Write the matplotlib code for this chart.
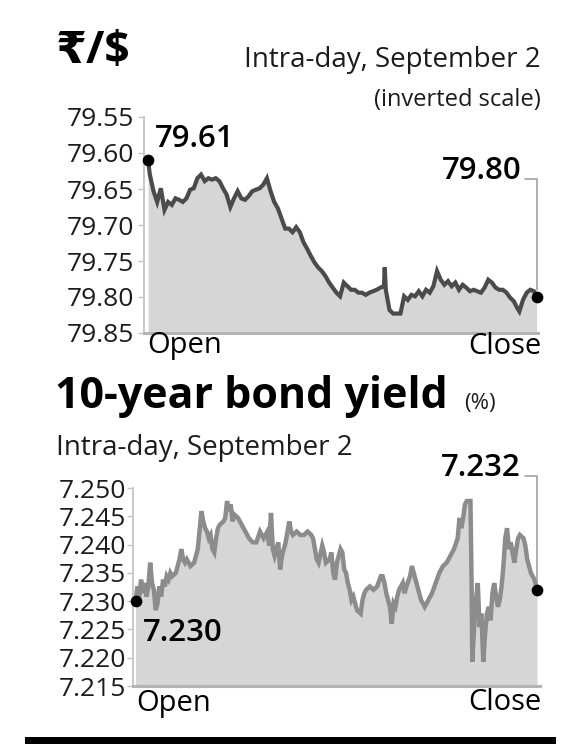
import matplotlib
matplotlib.use("Agg")
import matplotlib.pyplot as plt

plt.rcParams['font.family'] = ['Open Sans', 'Noto Sans', 'DejaVu Sans']

# ---- data: rupee per dollar, intra-day (time in session steps)
usd_t = [0, 5, 15, 25, 35, 45, 55, 65, 75, 85, 95, 105, 115, 125, 135, 145,
         155, 165, 175, 185, 195, 205, 215, 225, 235, 245, 255, 265, 275, 285,
         295, 305, 315, 325, 335, 345, 355, 365, 375, 385, 395, 405, 415, 425,
         435, 445, 455, 465, 475, 485, 495, 505, 515, 525, 535, 545, 555, 565,
         575, 585, 595, 605, 615, 625, 635, 645, 647, 650, 660, 670, 680, 690,
         700, 710, 720, 730, 740, 750, 760, 770, 780, 790, 800, 810, 820, 830,
         840, 850, 860, 870, 880, 890, 900, 910, 920, 930, 940, 950, 960, 970,
         980, 990, 1000, 1010, 1015, 1025, 1035, 1045, 1055, 1062]
usd_v = [79.610, 79.630, 79.653, 79.668, 79.649, 79.679, 79.668, 79.672,
         79.663, 79.665, 79.668, 79.663, 79.651, 79.649, 79.635, 79.630,
         79.639, 79.635, 79.637, 79.635, 79.639, 79.649, 79.658, 79.675,
         79.663, 79.653, 79.663, 79.665, 79.660, 79.653, 79.651, 79.649,
         79.644, 79.635, 79.653, 79.668, 79.677, 79.691, 79.705, 79.705,
         79.710, 79.703, 79.710, 79.724, 79.733, 79.743, 79.752, 79.759,
         79.764, 79.771, 79.780, 79.787, 79.794, 79.799, 79.780, 79.785,
         79.790, 79.790, 79.794, 79.794, 79.797, 79.794, 79.792, 79.790,
         79.787, 79.785, 79.759, 79.790, 79.818, 79.823, 79.823, 79.823,
         79.799, 79.804, 79.797, 79.799, 79.792, 79.799, 79.790, 79.794,
         79.785, 79.764, 79.776, 79.783, 79.778, 79.785, 79.780, 79.790,
         79.783, 79.787, 79.792, 79.790, 79.792, 79.794, 79.787, 79.776,
         79.780, 79.787, 79.790, 79.790, 79.794, 79.801, 79.806, 79.816,
         79.820, 79.804, 79.794, 79.790, 79.792, 79.800]
usd_ticks = [79.55, 79.60, 79.65, 79.70, 79.75, 79.80, 79.85]

# ---- data: 10-year bond yield, intra-day
bond_t = [0, 5, 10, 15, 20, 25, 30, 35, 40, 45, 50, 55, 60, 65, 70, 75, 80,
          85, 90, 95, 100, 110, 120, 125, 130, 135, 140, 150, 160, 170, 180,
          185, 190, 195, 200, 205, 210, 215, 220, 225, 230, 240, 245, 250,
          255, 260, 265, 270, 280, 290, 300, 310, 320, 330, 340, 350, 360,
          365, 370, 375, 380, 390, 395, 400, 410, 420, 425, 430, 440, 450,
          460, 470, 480, 485, 490, 495, 500, 510, 515, 520, 530, 535, 540,
          545, 550, 560, 565, 570, 575, 580, 585, 590, 595, 600, 605, 615,
          620, 625, 630, 640, 650, 660, 670, 675, 680, 685, 690, 695, 700,
          705, 710, 715, 720, 725, 730, 735, 740, 750, 755, 760, 765, 770,
          780, 790, 800, 810, 820, 830, 840, 850, 860, 870, 880, 885, 890,
          895, 900, 905, 915, 918, 920, 925, 930, 935, 940, 945, 950, 955,
          960, 965, 970, 975, 980, 985, 990, 995, 1000, 1005, 1010, 1015,
          1020, 1025, 1030, 1035, 1040, 1045, 1050, 1060, 1065, 1070, 1075,
          1080, 1090, 1097]
bond_v = [7.2300, 7.2326, 7.2308, 7.2338, 7.2314, 7.2332, 7.2308, 7.2326,
          7.2368, 7.2332, 7.2320, 7.2284, 7.2296, 7.2326, 7.2308, 7.2338,
          7.2326, 7.2344, 7.2338, 7.2350, 7.2344, 7.2350, 7.2374, 7.2392,
          7.2374, 7.2368, 7.2374, 7.2362, 7.2368, 7.2392, 7.2459, 7.2441,
          7.2429, 7.2423, 7.2411, 7.2417, 7.2392, 7.2386, 7.2411, 7.2429,
          7.2435, 7.2441, 7.2447, 7.2477, 7.2459, 7.2471, 7.2441, 7.2453,
          7.2447, 7.2435, 7.2423, 7.2411, 7.2404, 7.2404, 7.2423, 7.2411,
          7.2423, 7.2398, 7.2456, 7.2392, 7.2380, 7.2404, 7.2356, 7.2380,
          7.2404, 7.2441, 7.2423, 7.2417, 7.2423, 7.2417, 7.2417, 7.2423,
          7.2417, 7.2411, 7.2392, 7.2374, 7.2368, 7.2398, 7.2386, 7.2368,
          7.2374, 7.2386, 7.2350, 7.2338, 7.2368, 7.2392, 7.2386, 7.2356,
          7.2350, 7.2332, 7.2320, 7.2302, 7.2308, 7.2296, 7.2284, 7.2278,
          7.2302, 7.2314, 7.2320, 7.2326, 7.2320, 7.2326, 7.2344, 7.2344,
          7.2332, 7.2314, 7.2302, 7.2290, 7.2260, 7.2296, 7.2290, 7.2308,
          7.2320, 7.2326, 7.2332, 7.2314, 7.2326, 7.2344, 7.2362, 7.2350,
          7.2338, 7.2326, 7.2302, 7.2290, 7.2302, 7.2314, 7.2332, 7.2350,
          7.2362, 7.2368, 7.2380, 7.2392, 7.2411, 7.2447, 7.2429, 7.2447,
          7.2471, 7.2477, 7.2477, 7.2338, 7.2193, 7.2254, 7.2302, 7.2332,
          7.2254, 7.2278, 7.2193, 7.2242, 7.2278, 7.2290, 7.2266, 7.2314,
          7.2332, 7.2308, 7.2290, 7.2302, 7.2326, 7.2362, 7.2411, 7.2429,
          7.2392, 7.2404, 7.2386, 7.2368, 7.2392, 7.2411, 7.2417, 7.2411,
          7.2398, 7.2374, 7.2362, 7.2350, 7.2338, 7.2320]
bond_ticks = [7.250, 7.245, 7.240, 7.235, 7.230, 7.225, 7.220, 7.215]

W, H = 568, 744
fig = plt.figure(figsize=(W / 100, H / 100), dpi=100)


def fx(px):
    return px / W


def fy(py):
    return 1 - py / H


def style_axis(ax, ticks, fmt, tick_len, pad):
    ax.set_yticks(ticks)
    ax.set_yticklabels([fmt.format(t) for t in ticks])
    ax.set_xticks([])
    for s in ['top', 'right']:
        ax.spines[s].set_visible(False)
    ax.spines['left'].set_color('#c4c4c4')
    ax.spines['left'].set_linewidth(1.3)
    ax.spines['bottom'].set_color('#b4b4b4')
    ax.spines['bottom'].set_linewidth(2.2)
    ax.tick_params(axis='y', length=tick_len, width=1.0, color='#c4c4c4',
                   pad=pad, labelsize=19, labelcolor='#1c1c1c')
    ax.patch.set_alpha(0)


leader = dict(arrowstyle='-', color='#9a9a9a', lw=1.1,
              connectionstyle='angle,angleA=0,angleB=90,rad=0',
              relpos=(1, 0.22), shrinkA=1, shrinkB=5)

# ---------------- top chart: rupee/dollar (inverted)
ax1 = fig.add_axes([fx(144), fy(333), fx(538) - fx(144), fy(117) - fy(333)])
ax1.fill_between(usd_t, usd_v, 79.85, color='#d6d6d6', lw=0)
ax1.plot(usd_t, usd_v, color='#4b4b4b', lw=3.0, solid_joinstyle='miter')
ax1.set_ylim(79.85, 79.55)
ax1.set_xlim(-11, 1066)
style_axis(ax1, usd_ticks, '{:.2f}', 4, 3)
ax1.scatter([usd_t[0], usd_t[-1]], [usd_v[0], usd_v[-1]], s=55,
            color='black', zorder=5, clip_on=False)
ax1.annotate('{:.2f}'.format(usd_v[0]), xy=(usd_t[0], usd_v[0]),
             xytext=(5, 15), textcoords='offset points', fontsize=22.5,
             fontweight='semibold', ha='left', va='center')
ax1.annotate('{:.2f}'.format(usd_v[-1]), xy=(usd_t[-1], usd_v[-1]),
             xytext=(-11, 91), textcoords='offset points', fontsize=22.5,
             fontweight='semibold', ha='right', va='center',
             arrowprops=leader)

# ---------------- bottom chart: bond yield
ax2 = fig.add_axes([fx(133), fy(686), fx(540) - fx(133), fy(488) - fy(686)])
ax2.fill_between(bond_t, bond_v, 7.215, color='#d6d6d6', lw=0)
ax2.plot(bond_t, bond_v, color='#8c8c8c', lw=3.2, solid_joinstyle='miter')
ax2.set_ylim(7.215, 7.250)
ax2.set_xlim(-7, 1105)
style_axis(ax2, bond_ticks, '{:.3f}', 4, 1)
ax2.scatter([bond_t[0], bond_t[-1]], [bond_v[0], bond_v[-1]], s=55,
            color='black', zorder=5, clip_on=False)
ax2.annotate('{:.3f}'.format(bond_v[0]), xy=(bond_t[0], bond_v[0]),
             xytext=(5, -23), textcoords='offset points', fontsize=22.5,
             fontweight='semibold', ha='left', va='center')
ax2.annotate('{:.3f}'.format(bond_v[-1]), xy=(bond_t[-1], bond_v[-1]),
             xytext=(-12, 88), textcoords='offset points', fontsize=22.5,
             fontweight='semibold', ha='right', va='center',
             arrowprops=leader)

# ---------------- titles and labels
fig.text(fx(56), fy(52), '₹/$', fontsize=32, fontweight='bold',
         ha='left', va='center', family=['Open Sans', 'DejaVu Sans'])
fig.text(fx(541), fy(60), 'Intra-day, September 2', fontsize=20,
         ha='right', va='center', color='#1c1c1c')
fig.text(fx(541), fy(100), '(inverted scale)', fontsize=17,
         ha='right', va='center', color='#1c1c1c')
fig.text(fx(55), fy(397), '10-year bond yield', fontsize=31,
         fontweight='bold', ha='left', va='center')
fig.text(fx(464), fy(403), '(%)', fontsize=16, ha='left', va='center',
         color='#1c1c1c')
fig.text(fx(56), fy(448), 'Intra-day, September 2', fontsize=20,
         ha='left', va='center', color='#1c1c1c')

fig.text(fx(147), fy(346), 'Open', fontsize=21, ha='left', va='center')
fig.text(fx(541), fy(346), 'Close', fontsize=21, ha='right', va='center')
fig.text(fx(136), fy(703), 'Open', fontsize=21, ha='left', va='center')
fig.text(fx(541), fy(703), 'Close', fontsize=21, ha='right', va='center')

# black rule at the bottom
fig.add_artist(plt.Rectangle((fx(25), 0), fx(556) - fx(25), fy(737),
                             transform=fig.transFigure, color='black', lw=0))

fig.savefig('out.png', dpi=100)
